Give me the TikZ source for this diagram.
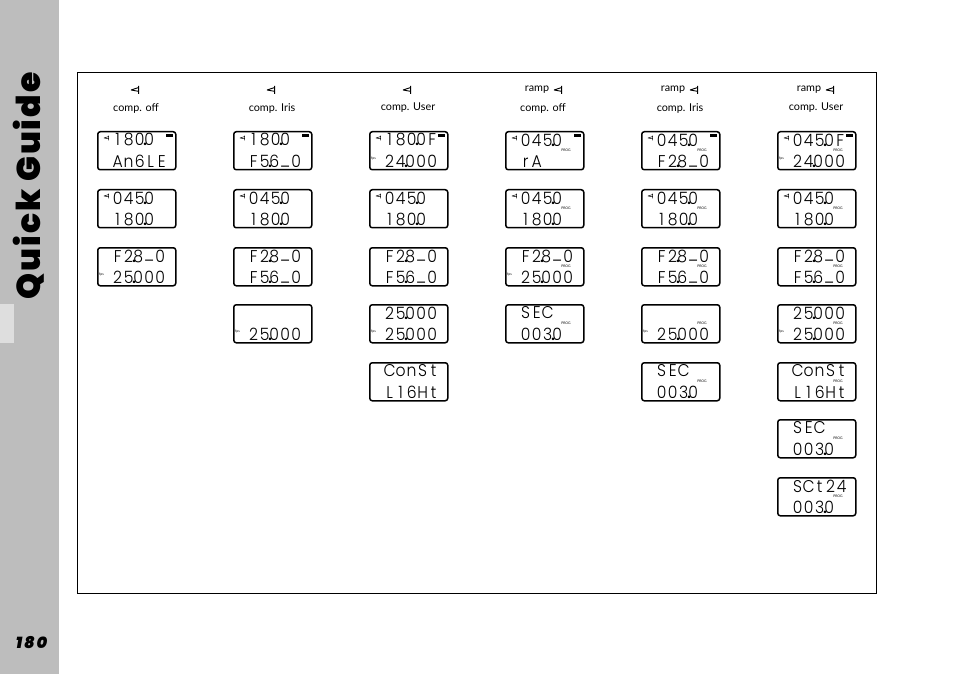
\documentclass[tikz,border=0pt]{standalone}
\usepackage{fontspec}
\setmainfont{Lato}
\newfontfamily\lcdfont[FakeStretch=.92]{Poppins Light}
\newfontfamily\titlefont[LetterSpace=6]{Poppins Black}
\newfontfamily\pagefont[LetterSpace=12]{Poppins Black Italic}
\definecolor{sidegray}{HTML}{BDBDBD}
\definecolor{sidepatch}{HTML}{DEDEDE}
\makeatletter
\def\lcd@dot{.}
% one cell per character, the dot takes no cell
\newcommand\lcdcells[1]{\@tfor\lcd@c:=#1\do{\ifx\lcd@c\lcd@dot\makebox[0pt]{\normalfont\bfseries.}\kern-1.5pt\else\makebox[11pt]{\lcd@c}\fi}}
\makeatother
\newcommand\us{\raisebox{2.5pt}{\_}}
\tikzset{
  lcdbox/.style={draw,line width=1.5pt,rounded corners=2.5pt,anchor=north west,minimum width=78pt,minimum height=38pt,inner sep=0pt,outer sep=.75pt},
  lcdline/.style={anchor=west,inner sep=0pt,font=\lcdfont\fontsize{17}{17}\selectfont},
  tag/.style={inner sep=0pt,font=\fontsize{3.4}{4}\selectfont},
  head/.style={inner sep=0pt,font=\fontsize{10.8}{12}\selectfont},
  shutmark/.pic={
    \draw (-5,0) -- (3,2.6) (-5,0) -- (3,-1.4) (2.6,4) -- (2.6,-4);
  },
}
\newcommand\lcd[5]{%
  \node[lcdbox] (#1) at (#2,-#3) {};
  \node[lcdline,xshift=15pt,yshift=-9pt] (#1top) at (#1.north west) {\lcdcells{#4}};
  \node[lcdline,xshift=15pt,yshift=-30.5pt] (#1bot) at (#1.north west) {\lcdcells{#5}};
}
\newcommand\markfps[1]{\node[tag,xshift=4.5pt,yshift=-28pt] (#1fps) at (#1.north west) {fps};}
\newcommand\markprog[1]{\node[tag,xshift=61pt,yshift=-19pt] (#1prog) at (#1.north west) {PROG};}
\newcommand\markbatt[1]{\fill ([xshift=69pt,yshift=-3pt]#1.north west) rectangle ([xshift=76pt,yshift=-6.5pt]#1.north west);}
\newcommand\markang[1]{\pic[scale=.6,line width=.5pt] at ([xshift=10pt,yshift=-7pt]#1.north west) {shutmark};}
\begin{document}
\begin{tikzpicture}[x=1pt,y=1pt]
  \useasboundingbox (0,0) rectangle (954,-674);
  \fill[sidegray] (0,0) rectangle (59,-674);
  \fill[sidepatch] (0,-304) rectangle (14,-343);
  \draw[line width=1pt] (77,-72.5) rectangle (876.5,-593);
  \node[rotate=90,inner sep=0pt,font=\titlefont\fontsize{33}{33}\selectfont] (title) at (29,-186) {Quick Guide};
  \node[inner sep=0pt,font=\pagefont\fontsize{16}{16}\selectfont] (pageno) at (31.5,-643) {180};

  % column heads
  \pic[line width=.9pt] at (136,-90) {shutmark};
  \pic[line width=.9pt] at (272,-90) {shutmark};
  \pic[line width=.9pt] at (408,-90) {shutmark};
  \node[head] (rampa) at (537,-89.5) {ramp};
  \node[head] (rampb) at (673,-89.5) {ramp};
  \node[head] (rampc) at (809,-89.5) {ramp};
  \pic[line width=.9pt] at (559,-90) {shutmark};
  \pic[line width=.9pt] at (695,-90) {shutmark};
  \pic[line width=.9pt] at (831,-90) {shutmark};
  \node[head] (heada) at (136,-108) {comp. off};
  \node[head] (headb) at (272,-108) {comp. Iris};
  \node[head] (headc) at (408,-108) {comp. User};
  \node[head] (headd) at (543,-108) {comp. off};
  \node[head] (heade) at (680,-108) {comp. Iris};
  \node[head] (headf) at (816,-108) {comp. User};

  % first column
  \lcd{a1}{97}{131}{180.0}{An6LE} \markang{a1} \markbatt{a1}
  \lcd{a2}{97}{189}{045.0}{180.0} \markang{a2}
  \lcd{a3}{97}{247}{F2.8\us0}{25.000} \markfps{a3}
  % second column
  \lcd{b1}{233}{131}{180.0}{F5.6\us0} \markang{b1} \markbatt{b1}
  \lcd{b2}{233}{189}{045.0}{180.0} \markang{b2}
  \lcd{b3}{233}{247}{F2.8\us0}{F5.6\us0}
  \lcd{b4}{233}{304}{}{25.000} \markfps{b4}
  % third column
  \lcd{c1}{369}{131}{180.0F}{24.000} \markang{c1} \markbatt{c1} \markfps{c1}
  \lcd{c2}{369}{189}{045.0}{180.0} \markang{c2}
  \lcd{c3}{369}{247}{F2.8\us0}{F5.6\us0}
  \lcd{c4}{369}{304}{25.000}{25.000} \markfps{c4}
  \lcd{c5}{369}{362}{ConSt}{L16Ht}
  % fourth column
  \lcd{d1}{505}{131}{045.0}{rA} \markang{d1} \markbatt{d1} \markprog{d1}
  \lcd{d2}{505}{189}{045.0}{180.0} \markang{d2} \markprog{d2}
  \lcd{d3}{505}{247}{F2.8\us0}{25.000} \markfps{d3} \markprog{d3}
  \lcd{d4}{505}{304}{SEC}{003.0} \markprog{d4}
  % fifth column
  \lcd{e1}{641}{131}{045.0}{F2.8\us0} \markang{e1} \markbatt{e1} \markprog{e1}
  \lcd{e2}{641}{189}{045.0}{180.0} \markang{e2} \markprog{e2}
  \lcd{e3}{641}{247}{F2.8\us0}{F5.6\us0} \markprog{e3}
  \lcd{e4}{641}{304}{}{25.000} \markfps{e4} \markprog{e4}
  \lcd{e5}{641}{362}{SEC}{003.0} \markprog{e5}
  % sixth column
  \lcd{f1}{777}{131}{045.0F}{24.000} \markang{f1} \markbatt{f1} \markfps{f1} \markprog{f1}
  \lcd{f2}{777}{189}{045.0}{180.0} \markang{f2} \markprog{f2}
  \lcd{f3}{777}{247}{F2.8\us0}{F5.6\us0} \markprog{f3}
  \lcd{f4}{777}{304}{25.000}{25.000} \markfps{f4} \markprog{f4}
  \lcd{f5}{777}{362}{ConSt}{L16Ht} \markprog{f5}
  \lcd{f6}{777}{419}{SEC}{003.0} \markprog{f6}
  \lcd{f7}{777}{477}{SCt24}{003.0} \markprog{f7}
\end{tikzpicture}
\end{document}
